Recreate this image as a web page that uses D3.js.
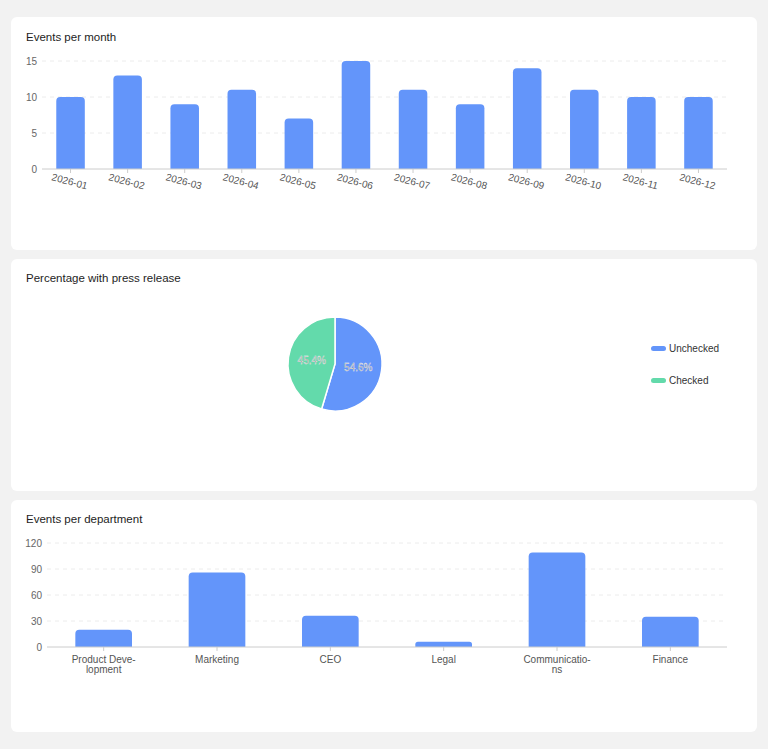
<!DOCTYPE html><html><head><meta charset="utf-8"><script src="https://cdn.jsdelivr.net/npm/d3@7"></script>
<style>body{margin:0;background:#f2f2f2;font-family:"Helvetica Neue",Arial,"Liberation Sans",sans-serif}</style></head><body>
<svg id="c" width="768" height="749"></svg>
<script>
const months=["2026-01","2026-02","2026-03","2026-04","2026-05","2026-06","2026-07","2026-08","2026-09","2026-10","2026-11","2026-12"];
const monthCounts=[10,13,9,11,7,15,11,9,14,11,10,10];
const monthTicks=[0,5,10,15];
const pieLabels=["Unchecked","Checked"];
const pieValues=[54.6,45.4];
const departments=["Product Deve-|lopment","Marketing","CEO","Legal","Communicatio-|ns","Finance"];
const deptCounts=[20,86,36,6,109,35];
const deptTicks=[0,30,60,90,120];
const blue="#6395fa",green="#63daab";
const svg=d3.select("#c");
[[17,250],[259,491],[500,732]].forEach(([a,b])=>svg.append("rect").attr("x",11).attr("y",a).attr("width",746).attr("height",b-a).attr("rx",6).attr("fill","#fff"));
[["Events per month",41],["Percentage with press release",282],["Events per department",523]].forEach(([t,y])=>svg.append("text").attr("x",26).attr("y",y).attr("font-size",11.5).attr("font-weight",500).attr("fill","#1d1d1d").text(t));

function barChart(cats,vals,ticks,x0,x1,y0,y1,max,pad,rot){
  const x=d3.scaleBand().domain(cats).range([x0,x1]).paddingInner(pad).paddingOuter(pad/2);
  const y=d3.scaleLinear().domain([0,max]).range([y0,y1]);
  const g=svg.append("g");
  ticks.forEach(t=>{
    if(t>0)g.append("line").attr("x1",x0).attr("x2",x1).attr("y1",y(t)).attr("y2",y(t)).attr("stroke","#ececec").attr("stroke-dasharray","4,4");
    g.append("text").attr("x",x0-5).attr("y",y(t)+3.5).attr("text-anchor","end").attr("font-size",10).attr("fill","#666").text(t);
  });
  cats.forEach((c,i)=>{
    const h=y0-y(vals[i]),r=Math.min(4,h/2),bx=x(c),w=x.bandwidth(),top=y(vals[i]);
    g.append("path").attr("fill",blue).attr("d",`M${bx},${y0}V${top+r}Q${bx},${top} ${bx+r},${top}H${bx+w-r}Q${bx+w},${top} ${bx+w},${top+r}V${y0}Z`);
    const cx=bx+w/2;
    g.append("line").attr("x1",cx).attr("x2",cx).attr("y1",y0).attr("y2",y0+4).attr("stroke","#ccc");
    if(rot){
      g.append("text").attr("transform",`translate(${cx},${y0+9}) rotate(15)`).attr("text-anchor","middle").attr("dy","0.7em").attr("font-size",10).attr("fill","#555").text(c);
    }else{
      c.split("|").forEach((p,k)=>g.append("text").attr("x",cx).attr("y",y0+16+k*10).attr("text-anchor","middle").attr("font-size",10).attr("fill","#555").text(p));
    }
  });
  g.append("line").attr("x1",x0).attr("x2",x1).attr("y1",y0).attr("y2",y0).attr("stroke","#ccc");
}
barChart(months,monthCounts,monthTicks,42,727,169,61,15,0.5,true);
barChart(departments,deptCounts,deptTicks,47,727,647,543,120,0.5,false);

const pie=d3.pie().sort(null)(pieValues);
const arc=d3.arc().innerRadius(0).outerRadius(47);
const pg=svg.append("g").attr("transform","translate(335,364)");
pg.selectAll("path").data(pie).join("path").attr("d",arc).attr("fill",(d,i)=>i?green:blue).attr("stroke","#fff").attr("stroke-width",1.5);
const la=d3.arc().innerRadius(0).outerRadius(47);
pg.selectAll("text").data(pie).join("text").attr("transform",d=>{const c=la.centroid(d);return `translate(${c[0]},${c[1]+3.5})`;}).attr("text-anchor","middle").attr("font-size",10).attr("fill","#888").attr("stroke","#fff").attr("stroke-width",0.3).text((d,i)=>pieValues[i]+"%");
pieLabels.forEach((l,i)=>{
  svg.append("rect").attr("x",651).attr("y",346+i*32).attr("width",15).attr("height",5).attr("rx",2.5).attr("fill",i?green:blue);
  svg.append("text").attr("x",669).attr("y",352+i*32).attr("font-size",10).attr("fill","#333").text(l);
});
</script></body></html>
